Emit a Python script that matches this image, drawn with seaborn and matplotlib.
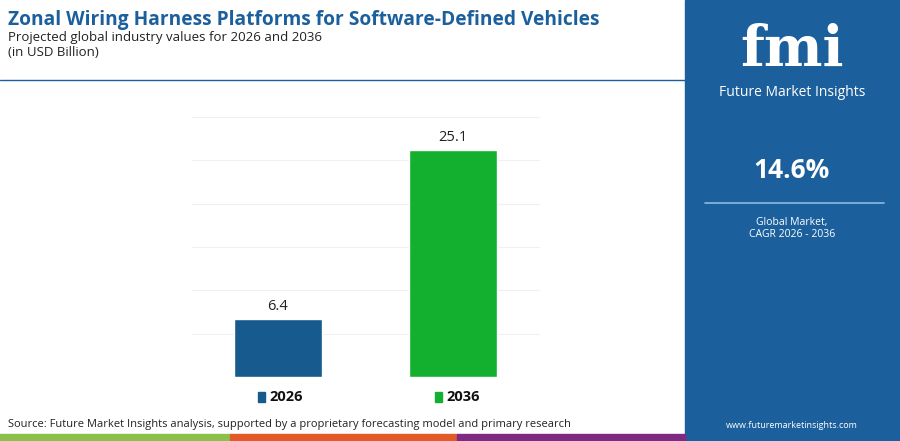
import matplotlib
matplotlib.use("Agg")
import matplotlib.pyplot as plt
import seaborn as sns
import pandas as pd
from matplotlib.patches import Rectangle

years = ["2026", "2036"]
values = [6.4, 25.1]
colors = ["#165a8e", "#12b02e"]
cagr = "14.6%"

sns.set_theme(style="white")
plt.rcParams['font.family'] = ['Open Sans', 'DejaVu Sans']

fig = plt.figure(figsize=(9, 4.41), dpi=100)
fig.patch.set_facecolor("white")

# right-hand panel
fig.patches.append(Rectangle((685 / 900, 0), 215 / 900, 1, transform=fig.transFigure,
                             color="#1b5f9c", zorder=0))
fig.text(792 / 900, 1 - 50 / 441, "fmi", color="white", fontsize=40, fontweight="bold",
         ha="center", va="center", family="DejaVu Serif")
fig.text(792 / 900, 1 - 92 / 441, "Future Market Insights", color="white", fontsize=10,
         ha="center", va="center")
fig.text(792 / 900, 1 - 171 / 441, cagr, color="white", fontsize=19, fontweight="bold",
         ha="center", va="center")
fig.lines.append(plt.Line2D([705 / 900, 884 / 900], [1 - 203 / 441] * 2, transform=fig.transFigure,
                            color="#8fb8e0", lw=1.2))
fig.text(792 / 900, 1 - 222 / 441, "Global Market,", color="white", fontsize=7.5, ha="center", va="center")
fig.text(792 / 900, 1 - 234 / 441, "CAGR 2026 - 2036", color="white", fontsize=7.5, ha="center", va="center")
fig.text(792 / 900, 1 - 425 / 441, "www.futuremarketinsights.com", color="white", fontsize=6.5,
         ha="center", va="center")

# header
fig.text(8 / 900, 1 - 20 / 441, "Zonal Wiring Harness Platforms for Software-Defined Vehicles",
         color="#1b5f9c", fontsize=13.8, fontweight="bold", ha="left", va="center")
fig.text(8 / 900, 1 - 37 / 441, "Projected global industry values for 2026 and 2036",
         color="#222222", fontsize=9.5, ha="left", va="center")
fig.text(8 / 900, 1 - 52 / 441, "(in USD Billion)", color="#222222", fontsize=9.5, ha="left", va="center")
fig.lines.append(plt.Line2D([0, 685 / 900], [1 - 80 / 441] * 2, transform=fig.transFigure,
                            color="#1b5f9c", lw=1))

# bottom stripe
for x0, x1, c in [(0, 230, "#8cc04a"), (230, 457, "#e35a2a"), (457, 685, "#7e2a84")]:
    fig.patches.append(Rectangle((x0 / 900, 0), (x1 - x0) / 900, 7 / 441, transform=fig.transFigure,
                                 color=c, zorder=1))
fig.text(8 / 900, 1 - 425 / 441,
         "Source: Future Market Insights analysis, supported by a proprietary forecasting model and primary research",
         color="#222222", fontsize=8, ha="left", va="center")

# chart
ax = fig.add_axes([192 / 900, 1 - 377 / 441, 348 / 900, 262 / 441])
df = pd.DataFrame({"year": years, "value": values})
sns.barplot(data=df, x="year", y="value", hue="year", palette=colors, width=0.5,
            legend=False, ax=ax, saturation=1)
ax.set_xlim(-0.49, 1.497)
ax.set_ylim(0, 29)
ax.set_yticks([0, 4.8, 9.6, 14.4, 19.2, 24, 28.8])
ax.grid(axis="y", color="#f0f0f0", lw=0.8)
ax.set_axisbelow(True)
ax.set_yticklabels([])
ax.set_xticklabels([])
ax.tick_params(length=0)
ax.set_xlabel("")
ax.set_ylabel("")
for s in ax.spines.values():
    s.set_visible(False)
for i, v in enumerate(values):
    ax.text(i, v + 0.6, f"{v}", ha="center", va="bottom", fontsize=10.5, color="#222222")

# legend
for x, y, c in [(258, years[0], colors[0]), (435, years[1], colors[1])]:
    fig.patches.append(Rectangle((x / 900, 1 - 402 / 441), 7 / 900, 10 / 441,
                                 transform=fig.transFigure, color=c))
    fig.text((x + 11) / 900, 1 - 397 / 441, y, fontsize=10.5, fontweight="bold",
             ha="left", va="center", color="#111111")

fig.savefig("out.png", dpi=100)
